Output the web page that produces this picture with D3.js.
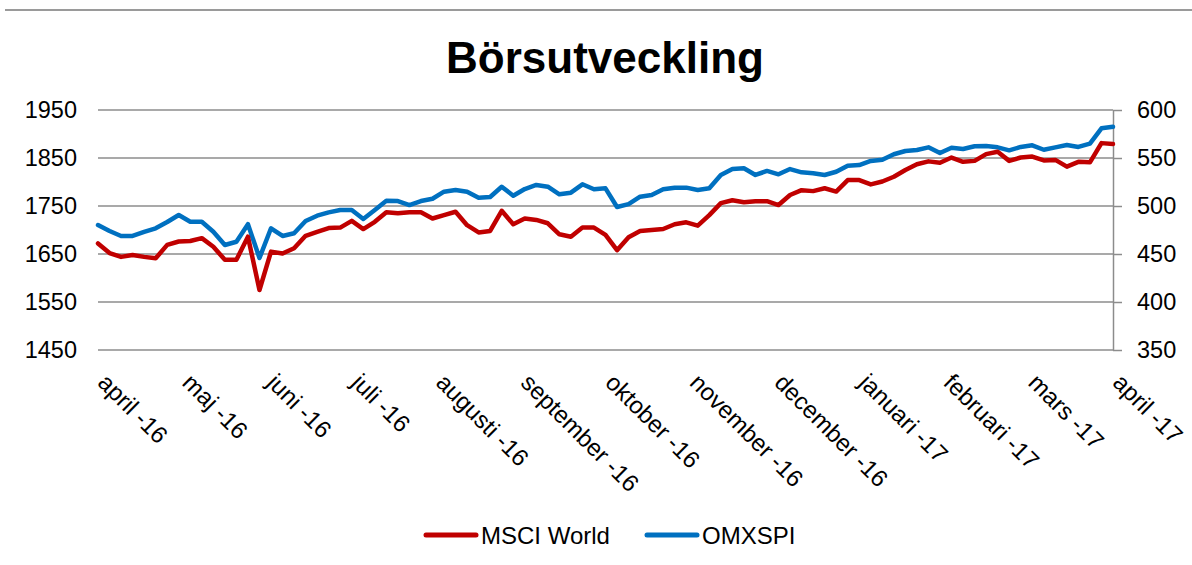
<!DOCTYPE html>
<html>
<head>
<meta charset="utf-8">
<script src="https://cdn.jsdelivr.net/npm/d3@7"></script>
<style>
  body { margin: 0; background: #fff; }
  svg { display: block; font-family: "Liberation Sans", Arial, sans-serif; }
</style>
</head>
<body>
<svg width="1192" height="565"></svg>
<script>
// category labels (one every 22 trading days)
var monthLabels = ["april -16", "maj -16", "juni -16", "juli -16", "augusti -16", "september -16",
  "oktober -16", "november -16", "december -16", "januari -17", "februari -17", "mars -17", "april -17"];
var labelStep = 22;
var pointStep = 3;

// MSCI World, left axis
var msciWorld = [1672, 1652, 1644, 1648, 1644, 1641, 1669, 1676, 1677, 1683,
  1665, 1638, 1638, 1686, 1575, 1655, 1651, 1662, 1688, 1696,
  1704, 1705, 1719, 1702, 1717, 1737, 1735, 1737, 1737, 1724,
  1731, 1738, 1710, 1695, 1698, 1740, 1712, 1724, 1721, 1714,
  1691, 1686, 1705, 1705, 1690, 1658, 1685, 1698, 1700, 1702,
  1712, 1716, 1709, 1731, 1756, 1762, 1758, 1760, 1760, 1752,
  1773, 1783, 1781, 1787, 1780, 1804, 1804, 1795, 1801, 1811,
  1825, 1837, 1843, 1840, 1851, 1842, 1844, 1858, 1863, 1844,
  1851, 1853, 1845, 1846, 1832, 1842, 1841, 1881, 1879];

// OMXSPI, right axis
var omxspi = [480.2, 474, 468.8, 468.8, 473, 476.8, 483.3, 490.6, 483.6, 483.6,
  473.2, 459.4, 462.8, 481, 445.8, 476.8, 468.8, 471.6, 484.4, 489.9,
  493.4, 495.8, 495.8, 486.5, 495.8, 505.5, 505.2, 501, 505.2, 507.6,
  514.9, 516.7, 514.9, 508.6, 509.4, 520.1, 510.7, 517.7, 521.9, 520.1,
  512.2, 513.9, 522.6, 517.4, 518.4, 499, 502, 509.7, 511.5, 517.4,
  519.1, 519.1, 516.7, 518.4, 532.3, 538.5, 539.3, 532.3, 536.5, 533,
  538.5, 535.1, 534.1, 532.3, 535.7, 542, 542.7, 546.9, 548.2, 553.9,
  557.3, 558.3, 561.1, 555.2, 560.7, 559.4, 562.2, 562.5, 561.1, 558,
  561.5, 563.2, 558.6, 561.1, 563.5, 561.5, 564.9, 580.9, 582.6];

var leftTicks = [1450, 1550, 1650, 1750, 1850, 1950];
var rightTicks = [350, 400, 450, 500, 550, 600];

var svg = d3.select("svg"),
    margin = {top: 110, right: 79, bottom: 215, left: 98},
    width = 1192 - margin.left - margin.right,
    height = 565 - margin.top - margin.bottom,
    g = svg.append("g").attr("transform", "translate(" + margin.left + "," + margin.top + ")");

var lastIndex = (monthLabels.length - 1) * labelStep;

var x = d3.scaleLinear().domain([0, lastIndex]).range([0, width]),
    yLeft = d3.scaleLinear().domain([1450, 1950]).range([height, 0]),
    yRight = d3.scaleLinear().domain([350, 600]).range([height, 0]);

var gridColor = "#8c8c8c";

// header rule at the very top
svg.append("line")
    .attr("x1", 5).attr("x2", 1192)
    .attr("y1", 10).attr("y2", 10)
    .attr("stroke", "#9a9a9a").attr("stroke-width", 2);

// title
svg.append("text")
    .attr("x", 605).attr("y", 73)
    .attr("text-anchor", "middle")
    .style("font-size", "44px").style("font-weight", "bold")
    .text("Börsutveckling");

// gridlines
g.append("g")
    .selectAll("line")
    .data(leftTicks)
    .enter().append("line")
    .attr("x1", 0).attr("x2", width)
    .attr("y1", function (d) { return yLeft(d); })
    .attr("y2", function (d) { return yLeft(d); })
    .attr("stroke", gridColor).attr("stroke-width", 1.5);

// left axis (labels only)
var axL = g.append("g")
    .call(d3.axisLeft(yLeft).tickValues(leftTicks).tickFormat(d3.format("d"))
        .tickSize(0).tickPadding(21));
axL.select(".domain").remove();
axL.selectAll("text").style("font-size", "23.5px").attr("fill", "#000");

// right axis with line and outward ticks
var axR = g.append("g")
    .attr("transform", "translate(" + width + ",0)")
    .call(d3.axisRight(yRight).tickValues(rightTicks).tickFormat(d3.format("d"))
        .tickSizeInner(9).tickSizeOuter(0).tickPadding(15));
axR.select(".domain").attr("stroke", gridColor).attr("stroke-width", 1.5);
axR.selectAll(".tick line").attr("stroke", gridColor).attr("stroke-width", 1.5);
axR.selectAll("text").style("font-size", "23.5px").attr("fill", "#000");

// x axis, rotated month labels
var tickIdx = monthLabels.map(function (d, i) { return i * labelStep; });
var axX = g.append("g")
    .attr("transform", "translate(0," + height + ")")
    .call(d3.axisBottom(x).tickValues(tickIdx).tickSize(0)
        .tickFormat(function (d, i) { return monthLabels[i]; }));
axX.select(".domain").remove();
axX.selectAll("text")
    .attr("x", 0).attr("y", 0).attr("dy", 0)
    .attr("text-anchor", "start")
    .attr("transform", "translate(-2,34) rotate(45)")
    .style("font-size", "24px").attr("fill", "#000");

// series
var lineL = d3.line()
    .x(function (d, i) { return x(i * pointStep); })
    .y(function (d) { return yLeft(d); });
var lineR = d3.line()
    .x(function (d, i) { return x(i * pointStep); })
    .y(function (d) { return yRight(d); });

g.append("path")
    .datum(omxspi)
    .attr("d", lineR)
    .attr("fill", "none").attr("stroke", "#0070c0").attr("stroke-width", 4.5)
    .attr("stroke-linejoin", "round").attr("stroke-linecap", "round");

g.append("path")
    .datum(msciWorld)
    .attr("d", lineL)
    .attr("fill", "none").attr("stroke", "#c00000").attr("stroke-width", 4.5)
    .attr("stroke-linejoin", "round").attr("stroke-linecap", "round");

// legend
var legend = [
  {name: "MSCI World", color: "#c00000", x: 424},
  {name: "OMXSPI", color: "#0070c0", x: 645}
];
var lg = svg.append("g").selectAll("g").data(legend).enter().append("g")
    .attr("transform", function (d) { return "translate(" + d.x + ",535)"; });
lg.append("line")
    .attr("x1", 2).attr("x2", 52).attr("y1", 0).attr("y2", 0)
    .attr("stroke", function (d) { return d.color; })
    .attr("stroke-width", 5).attr("stroke-linecap", "round");
lg.append("text")
    .attr("x", 57).attr("y", 0).attr("dy", "0.36em")
    .style("font-size", "24px")
    .text(function (d) { return d.name; });
</script>
</body>
</html>
